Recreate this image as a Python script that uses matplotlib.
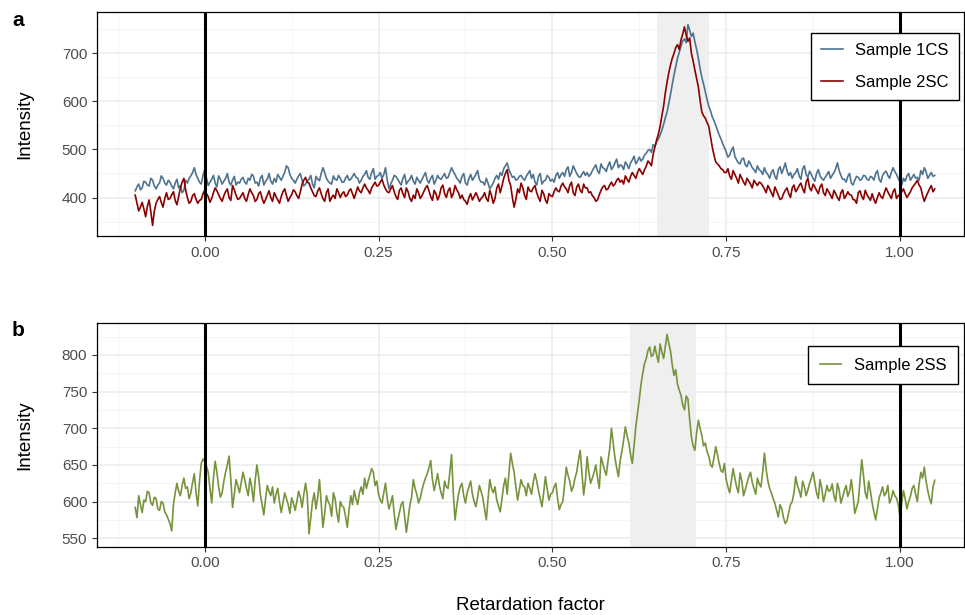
import numpy as np
import matplotlib
matplotlib.use("Agg")
import matplotlib.pyplot as plt

plt.rcParams['font.family'] = ['Liberation Sans', 'DejaVu Sans']

# sampling positions (retardation factor), step 0.0025 from -0.10 to 1.05
rf = np.linspace(-0.10, 1.05, 461)

sample_1cs = [
    414, 422, 428, 416, 420, 434, 432, 426, 424, 440, 436, 424, 418, 426, 430, 445, 440, 430, 426, 436,
    432, 424, 418, 430, 438, 420, 425, 410, 415, 436, 430, 440, 445, 452, 462, 448, 440, 432, 428, 446,
    458, 440, 425, 432, 438, 446, 430, 422, 445, 438, 428, 434, 440, 450, 432, 426, 436, 444, 426, 432,
    430, 438, 442, 432, 428, 440, 436, 448, 445, 430, 432, 424, 440, 446, 426, 434, 438, 450, 434, 428,
    440, 432, 448, 442, 436, 444, 452, 466, 462, 448, 440, 436, 430, 438, 445, 450, 436, 424, 428, 434,
    438, 446, 428, 420, 444, 438, 435, 450, 462, 452, 440, 434, 430, 428, 445, 438, 436, 446, 440, 432,
    432, 440, 446, 436, 438, 444, 450, 442, 440, 430, 436, 444, 448, 456, 442, 438, 452, 460, 438, 444,
    446, 452, 440, 448, 462, 436, 418, 428, 436, 446, 444, 438, 432, 426, 440, 448, 428, 434, 438, 446,
    434, 428, 442, 436, 430, 438, 445, 452, 436, 430, 440, 446, 428, 436, 446, 440, 438, 444, 450, 440,
    442, 452, 462, 454, 448, 440, 436, 430, 444, 450, 430, 426, 440, 448, 436, 442, 448, 456, 438, 432,
    432, 426, 440, 430, 418, 424, 430, 440, 446, 438, 452, 446, 460, 466, 472, 458, 450, 442, 444, 436,
    438, 444, 446, 440, 436, 444, 450, 456, 440, 448, 432, 426, 444, 450, 428, 434, 436, 446, 442, 434,
    438, 432, 446, 452, 440, 448, 452, 444, 458, 464, 444, 452, 466, 458, 450, 444, 442, 448, 454, 446,
    452, 444, 448, 456, 462, 468, 456, 450, 470, 462, 460, 454, 466, 474, 458, 464, 472, 480, 462, 468,
    466, 458, 474, 468, 460, 472, 478, 486, 470, 476, 484, 476, 480, 488, 492, 498, 500, 494, 510, 506,
    516, 522, 530, 540, 552, 566, 578, 596, 615, 636, 655, 672, 690, 702, 715, 726, 730, 722, 760, 748,
    735, 742, 724, 708, 690, 668, 650, 636, 620, 604, 590, 580, 568, 560, 550, 540, 530, 522, 512, 504,
    495, 484, 488, 498, 505, 486, 478, 472, 470, 480, 482, 468, 464, 476, 470, 462, 458, 452, 466, 458,
    455, 448, 462, 452, 448, 440, 452, 458, 444, 438, 458, 464, 450, 460, 472, 456, 446, 452, 440, 448,
    452, 460, 445, 438, 460, 466, 448, 442, 455, 448, 440, 434, 450, 458, 445, 440, 436, 442, 448, 454,
    440, 446, 452, 460, 472, 456, 446, 438, 438, 432, 444, 450, 430, 426, 436, 444, 442, 436, 438, 446,
    445, 438, 436, 444, 442, 436, 450, 456, 438, 432, 446, 452, 455, 446, 440, 452, 462, 454, 448, 440,
    432, 426, 440, 434, 445, 450, 436, 442, 448, 440, 442, 436, 456, 448, 462, 454, 440, 446, 452, 444,
    446,
]

sample_2sc = [
    405, 388, 372, 380, 390, 376, 360, 382, 395, 370, 342, 372, 388, 396, 402, 390, 380, 398, 410, 396,
    398, 406, 412, 394, 385, 402, 420, 432, 440, 416, 400, 388, 392, 404, 408, 396, 388, 394, 396, 408,
    415, 408, 402, 390, 398, 410, 420, 414, 406, 398, 392, 404, 412, 418, 400, 394, 425, 416, 405, 396,
    398, 404, 410, 398, 392, 406, 418, 410, 404, 392, 396, 408, 412, 398, 388, 396, 405, 414, 400, 392,
    410, 402, 395, 388, 402, 412, 418, 404, 392, 400, 406, 416, 412, 404, 398, 412, 428, 436, 442, 432,
    430, 420, 412, 404, 402, 414, 420, 408, 398, 392, 410, 418, 392, 400, 405, 398, 418, 410, 400, 408,
    412, 402, 405, 414, 418, 408, 398, 410, 422, 414, 410, 420, 428, 420, 415, 408, 420, 426, 432, 424,
    425, 432, 438, 426, 418, 412, 410, 418, 425, 412, 402, 396, 415, 420, 408, 400, 420, 412, 398, 392,
    405, 398, 418, 410, 398, 404, 412, 420, 425, 414, 402, 394, 415, 408, 395, 404, 420, 426, 408, 400,
    414, 420, 400, 408, 425, 416, 410, 398, 405, 396, 392, 386, 400, 408, 395, 402, 410, 402, 392, 398,
    402, 410, 398, 392, 415, 404, 388, 398, 420, 428, 410, 424, 440, 450, 458, 436, 425, 400, 380, 396,
    418, 410, 430, 420, 405, 396, 422, 414, 412, 420, 425, 410, 400, 392, 415, 408, 395, 388, 408, 404,
    402, 412, 420, 414, 412, 424, 430, 422, 418, 410, 425, 432, 410, 404, 422, 428, 415, 410, 428, 420,
    420, 410, 412, 404, 400, 392, 395, 406, 415, 422, 425, 416, 418, 426, 432, 424, 428, 436, 440, 432,
    436, 428, 445, 438, 432, 444, 452, 446, 440, 452, 460, 454, 448, 458, 465, 476, 472, 466, 490, 505,
    520, 532, 548, 570, 590, 618, 640, 660, 676, 690, 700, 712, 718, 708, 728, 740, 755, 738, 725, 732,
    700, 684, 665, 648, 630, 602, 578, 570, 565, 556, 548, 526, 505, 488, 474, 470, 466, 460, 458, 452,
    452, 460, 445, 438, 456, 448, 440, 430, 448, 440, 432, 426, 440, 434, 428, 420, 436, 430, 425, 432,
    430, 424, 418, 410, 425, 418, 410, 402, 422, 414, 405, 396, 398, 408, 415, 420, 408, 400, 420, 426,
    412, 418, 425, 430, 418, 410, 432, 440, 420, 414, 428, 422, 415, 408, 422, 428, 410, 404, 418, 412,
    405, 398, 415, 408, 400, 394, 410, 416, 398, 404, 412, 406, 405, 396, 395, 388, 410, 414, 402, 396,
    415, 406, 400, 394, 408, 396, 388, 400, 410, 402, 398, 410, 420, 412, 405, 398, 412, 418, 398, 404,
    405, 412, 418, 408, 400, 406, 412, 420, 425, 430, 436, 426, 420, 404, 392, 402, 410, 418, 425, 412,
    418,
]

sample_2ss = [
    592, 578, 608, 596, 585, 602, 600, 614, 612, 598, 595, 606, 604, 590, 588, 600, 598, 586, 582, 576,
    570, 560, 596, 612, 625, 614, 608, 622, 632, 618, 620, 604, 612, 626, 638, 612, 594, 628, 652, 658,
    655, 648, 640, 618, 598, 632, 655, 640, 620, 606, 612, 628, 640, 650, 662, 630, 592, 610, 630, 622,
    612, 626, 640, 630, 618, 608, 632, 620, 600, 628, 650, 634, 610, 596, 582, 604, 622, 614, 608, 620,
    598, 610, 618, 600, 585, 598, 612, 604, 596, 584, 605, 598, 588, 600, 614, 606, 592, 610, 625, 608,
    556, 578, 600, 612, 590, 606, 630, 598, 565, 584, 608, 600, 595, 580, 612, 604, 585, 572, 600, 594,
    592, 580, 565, 588, 608, 596, 615, 604, 596, 612, 620, 610, 632, 618, 628, 636, 645, 640, 622, 628,
    610, 602, 598, 612, 625, 604, 590, 598, 608, 584, 562, 574, 585, 596, 600, 580, 558, 576, 595, 606,
    630, 618, 610, 598, 605, 616, 625, 632, 638, 646, 656, 630, 615, 626, 638, 622, 612, 604, 628, 620,
    618, 640, 664, 612, 575, 594, 610, 620, 625, 608, 598, 612, 620, 628, 610, 600, 593, 606, 622, 614,
    605, 590, 575, 604, 630, 618, 612, 620, 602, 594, 586, 604, 622, 632, 610, 638, 666, 652, 640, 620,
    602, 616, 630, 622, 620, 608, 625, 618, 610, 626, 638, 628, 615, 604, 593, 612, 634, 618, 602, 610,
    612, 620, 625, 604, 589, 596, 600, 622, 647, 636, 628, 614, 620, 632, 640, 656, 670, 640, 609, 628,
    661, 640, 625, 632, 640, 650, 632, 618, 661, 652, 643, 636, 655, 672, 700, 680, 660, 646, 634, 656,
    668, 684, 702, 690, 680, 664, 652, 676, 702, 720, 739, 760, 775, 788, 795, 806, 811, 798, 800, 812,
    800, 790, 815, 804, 795, 812, 828, 816, 805, 786, 772, 780, 760, 752, 745, 732, 725, 744, 740, 712,
    688, 676, 670, 694, 711, 700, 690, 676, 680, 668, 662, 650, 647, 660, 675, 664, 652, 642, 640, 652,
    630, 620, 612, 628, 645, 632, 620, 612, 639, 628, 608, 616, 625, 634, 640, 626, 618, 610, 632, 624,
    620, 640, 666, 644, 628, 618, 612, 604, 598, 588, 579, 596, 590, 578, 570, 574, 585, 596, 600, 612,
    634, 622, 615, 606, 628, 620, 608, 616, 625, 632, 640, 626, 612, 604, 630, 618, 600, 610, 622, 614,
    616, 624, 608, 600, 625, 616, 598, 606, 615, 622, 607, 614, 630, 610, 584, 592, 600, 628, 657, 636,
    612, 604, 628, 614, 598, 586, 575, 590, 605, 612, 620, 608, 612, 622, 598, 604, 615, 608, 605, 596,
    579, 598, 615, 604, 590, 600, 607, 618, 622, 610, 600, 624, 640, 632, 647, 628, 615, 604, 597, 620,
    629,
]

peak_a = (0.650, 0.725)
peak_b = (0.611, 0.707)
x_ticks = [0.00, 0.25, 0.50, 0.75, 1.00]
x_tick_labels = ["0.00", "0.25", "0.50", "0.75", "1.00"]

fig = plt.figure(figsize=(9.65, 6.15), dpi=100)
ax_a = fig.add_axes([0.1005, 0.6163, 0.8984, 0.3642])
ax_b = fig.add_axes([0.1005, 0.1111, 0.8984, 0.3637])


def style_axis(ax, ylim, yticks, yminor):
    ax.set_xlim(-0.155, 1.092)
    ax.set_ylim(*ylim)
    ax.set_xticks(x_ticks)
    ax.set_xticklabels(x_tick_labels)
    ax.set_xticks([-0.125, 0.125, 0.375, 0.625, 0.875], minor=True)
    ax.set_yticks(yticks)
    ax.set_yticks(yminor, minor=True)
    ax.grid(True, which='major', color='#EBEBEB', linewidth=1.1, zorder=0)
    ax.grid(True, which='minor', color='#F2F2F2', linewidth=0.6, zorder=0)
    ax.set_axisbelow(True)
    ax.tick_params(which='major', length=3.5, width=0.8, color='#333333',
                   labelsize=11, labelcolor='#4D4D4D')
    ax.tick_params(which='minor', length=0)
    for s in ax.spines.values():
        s.set_color('black')
        s.set_linewidth(0.9)
    ax.axvline(0, color='black', linewidth=2.2, zorder=4)
    ax.axvline(1, color='black', linewidth=2.2, zorder=4)


# panel a
ax_a.axvspan(*peak_a, color='#EFEFEF', zorder=1, linewidth=0)
ax_a.plot(rf, sample_1cs, color='#4D7391', linewidth=1.2, label='Sample 1CS', zorder=3)
ax_a.plot(rf, sample_2sc, color='#8B0000', linewidth=1.2, label='Sample 2SC', zorder=3)
style_axis(ax_a, (320, 786), [400, 500, 600, 700], [350, 450, 550, 650, 750])
leg = ax_a.legend(loc='upper right', bbox_to_anchor=(0.994, 0.906), borderaxespad=0,
                  fontsize=12, frameon=True, fancybox=False, edgecolor='black',
                  framealpha=1, handlelength=1.3, labelspacing=1.0, borderpad=0.6,
                  handletextpad=0.75)
leg.get_frame().set_linewidth(1.0)

# panel b
ax_b.axvspan(*peak_b, color='#EFEFEF', zorder=1, linewidth=0)
ax_b.plot(rf, sample_2ss, color='#77933C', linewidth=1.2, label='Sample 2SS', zorder=3)
style_axis(ax_b, (538.5, 843.6), [550, 600, 650, 700, 750, 800],
           [575, 625, 675, 725, 775, 825])
leg = ax_b.legend(loc='upper right', bbox_to_anchor=(0.993, 0.897), borderaxespad=0,
                  fontsize=12, frameon=True, fancybox=False, edgecolor='black',
                  framealpha=1, handlelength=1.3, borderpad=0.7, handletextpad=0.75)
leg.get_frame().set_linewidth(1.0)

fig.text(0.026, 0.798, 'Intensity', rotation=90, ha='center', va='center', fontsize=13.5)
fig.text(0.026, 0.293, 'Intensity', rotation=90, ha='center', va='center', fontsize=13.5)
fig.text(0.55, 0.016, 'Retardation factor', ha='center', va='center', fontsize=13.5)
fig.text(0.019, 0.967, 'a', ha='center', va='center', fontsize=15, fontweight='bold')
fig.text(0.019, 0.463, 'b', ha='center', va='center', fontsize=15, fontweight='bold')

fig.savefig('out.png', dpi=100)
